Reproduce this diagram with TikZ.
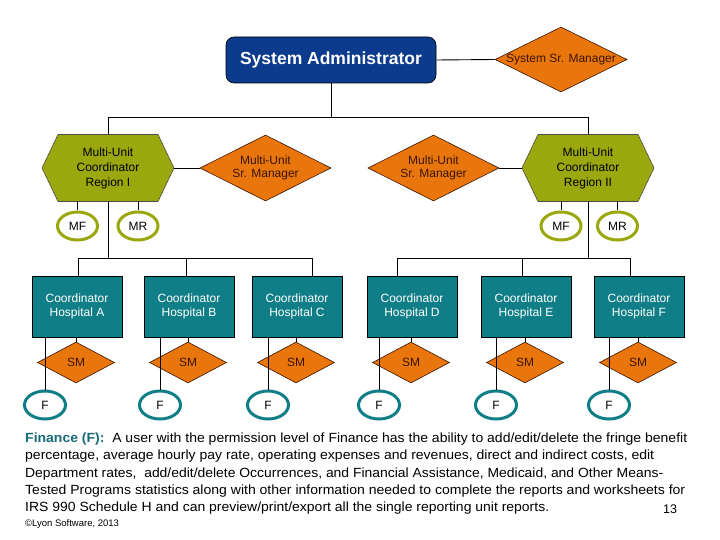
\documentclass[tikz,border=0pt]{standalone}
\usepackage{fontspec}
\usepackage{graphicx}
\setmainfont{Liberation Sans}
\usetikzlibrary{shapes.geometric}
\definecolor{sablue}{RGB}{12,58,140}
\definecolor{holive}{RGB}{154,168,14}
\definecolor{horange}{RGB}{232,118,12}
\definecolor{hteal}{RGB}{16,126,134}
\definecolor{dtext}{RGB}{60,20,0}
\definecolor{fintxt}{RGB}{24,108,122}
\begin{document}
\begin{tikzpicture}[x=1pt,y=-1pt,
  conn/.style={draw=black, line width=0.9pt},
  sabox/.style={rectangle, rounded corners=8pt, draw=black, line width=0.6pt, fill=sablue, text=white,
    font=\fontsize{17.5}{20}\selectfont\bfseries, minimum width=210, minimum height=46, inner sep=0},
  dia/.style={diamond, draw=dtext, line width=0.6pt, fill=horange, inner sep=0},
  dtxt/.style={text=dtext, font=\fontsize{12}{13.5}\selectfont, align=center},
  hexbox/.style={rectangle, minimum width=132, minimum height=67, inner sep=0, align=center,
    font=\fontsize{12}{15}\selectfont, text=black},
  hexfill/.style={fill=holive, draw=black!70, line width=0.6pt},
  hosp/.style={rectangle, draw=black, line width=0.6pt, fill=hteal, text=white, minimum width=90,
    minimum height=61, inner sep=0, align=center, font=\fontsize{12}{14.5}\selectfont},
  ring/.style={ellipse, line width=3pt, fill=white, inner sep=0, font=\fontsize{12}{14}\selectfont},
  body/.style={anchor=base west, inner sep=0, font=\fontsize{13.3}{16}\selectfont}
]
\useasboundingbox[fill=white] (0,0) rectangle (720,540);

% top level
\node[sabox] (sa) at (331,60) {System Administrator};
\node[dia, minimum width=132, minimum height=65] (ssm) at (561,59.5) {};
\node[dtxt] at (ssm.center) {System Sr. Manager};
\draw[conn] (sa.east) -- (ssm.west);

% hexagons
\path[hexfill] (42,168) -- (58,134.5) -- (158,134.5) -- (174,168) -- (158,201.5) -- (58,201.5) -- cycle;
\node[hexbox] (hexL) at (108,168) {Multi-Unit\\Coordinator\\Region I};
\path[hexfill] (522,168) -- (538,134.5) -- (638,134.5) -- (654,168) -- (638,201.5) -- (538,201.5) -- cycle;
\node[hexbox] (hexR) at (588,168) {Multi-Unit\\Coordinator\\Region II};

% multi-unit sr managers
\node[dia, minimum width=131, minimum height=66] (dL) at (265.5,168) {};
\node[dtxt] at (dL.center) {Multi-Unit\\Sr. Manager};
\node[dia, minimum width=131, minimum height=66] (dR) at (433.5,168) {};
\node[dtxt] at (dR.center) {Multi-Unit\\Sr. Manager};
\draw[conn] (hexL.east) -- (dL.west);
\draw[conn] (dR.east) -- (hexR.west);

% bus from SA
\draw[conn] (sa.south) -- ++(0,34) coordinate (busTop);
\draw[conn] (hexL.north) |- (busTop) -| (hexR.north);

% MF / MR rings
\node[ring, draw=holive, minimum width=40, minimum height=28] (mfL) at (77.5,226) {MF};
\node[ring, draw=holive, minimum width=40, minimum height=28] (mrL) at (138,226) {MR};
\node[ring, draw=holive, minimum width=40, minimum height=28] (mfR) at (561,226) {MF};
\node[ring, draw=holive, minimum width=40, minimum height=28] (mrR) at (617.5,226) {MR};
\draw[conn] (mfL.north) -- (mfL.north |- hexL.south);
\draw[conn] (mrL.north) -- (mrL.north |- hexL.south);
\draw[conn] (mfR.north) -- (mfR.north |- hexR.south);
\draw[conn] (mrR.north) -- (mrR.north |- hexR.south);

% hospitals
\foreach \n/\cx/\fx in {A/77/45, B/189/160, C/297/268, D/412/379, E/526/496, F/639/609} {
  \node[hosp] (hosp\n) at (\cx,306.5) {Coordinator\\Hospital \n};
  \node[dia, minimum width=77, minimum height=41] (sm\n) at (\cx-1,362.5) {};
  \node[dtxt] at (sm\n.center) {SM};
  \node[ring, draw=hteal, minimum width=41, minimum height=28] (f\n) at (\fx,405) {F};
  \draw[conn] (hosp\n.south -| sm\n.north) -- (sm\n.north);
  \draw[conn] (f\n.north) -- (f\n.north |- hosp\n.south);
}

% buses to hospitals
\draw[conn] (hexL.south) -- ++(0,56.5) coordinate (busL);
\draw[conn] ([xshift=1pt]hospA.north) |- (busL) -| ([xshift=15pt]hospC.north);
\draw[conn] ([xshift=-3pt]hospB.north) -- ++(0,-18);
\draw[conn] (hexR.south) -- ++(0,56.5) coordinate (busR);
\draw[conn] ([xshift=-15pt]hospD.north) |- (busR) -| ([xshift=-9pt]hospF.north);
\draw[conn] ([xshift=-4pt]hospE.north) -- ++(0,-18);

% description
\node[body] (l1) at (25,442) {\resizebox{662pt}{\height}{\textcolor{fintxt}{\textbf{Finance (F):}}\ \ A user with the permission level of Finance has the ability to add/edit/delete the fringe benefit}};
\node[body] (l2) at (25,459.5) {\resizebox{629pt}{\height}{percentage, average hourly pay rate, operating expenses and revenues, direct and indirect costs, edit}};
\node[body] (l3) at (25,477) {\resizebox{638pt}{\height}{Department rates,\ \ add/edit/delete Occurrences, and Financial Assistance, Medicaid, and Other Means-}};
\node[body] (l4) at (25,494) {\resizebox{660pt}{\height}{Tested Programs statistics along with other information needed to complete the reports and worksheets for}};
\node[body] (l5) at (25,511) {\resizebox{524pt}{\height}{IRS 990 Schedule H and can preview/print/export all the single reporting unit reports.}};
\node[inner sep=0, font=\fontsize{12.5}{14}\selectfont] (pg) at (670,509.5) {13};
\node[anchor=west, inner sep=0, font=\fontsize{9.5}{11}\selectfont] (copy) at (25,524) {©Lyon Software, 2013};
\end{tikzpicture}
\end{document}
